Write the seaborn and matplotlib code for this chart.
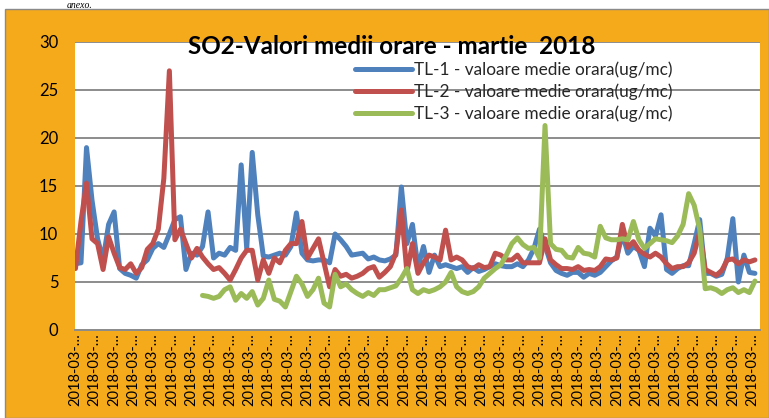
import numpy as np
import pandas as pd
import matplotlib
matplotlib.use("Agg")
import matplotlib.pyplot as plt
from matplotlib.patches import Rectangle
import seaborn as sns

# ---------------- data (6-hourly readings, March 2018) ----------------
tl1 = [6.9, 7.0, 19.0, 13.5, 9.5, 7.3, 11.0, 12.3, 6.4, 5.9, 5.7, 5.4, 6.8, 7.3, 8.5, 9.0,
       8.6, 10.0, 11.5, 11.8, 6.3, 8.0, 7.8, 8.7, 12.3, 7.5, 8.0, 7.8, 8.6, 8.3, 17.2, 8.5,
       18.5, 12.0, 7.7, 7.6, 7.8, 8.0, 7.8, 8.7, 12.2, 8.0, 7.3, 7.2, 7.3, 7.3, 7.0, 10.0,
       9.4, 8.7, 7.8, 7.9, 8.0, 7.4, 7.6, 7.3, 7.2, 7.4, 7.8, 14.9, 9.0, 11.0, 6.5, 8.7,
       6.0, 7.8, 6.6, 6.8, 6.6, 6.4, 6.6, 6.0, 6.5, 6.1, 6.3, 6.6, 6.9, 6.7, 6.6, 6.6,
       6.9, 6.6, 7.3, 8.5, 10.5, 8.8, 7.0, 6.2, 5.9, 5.7, 6.0, 6.0, 5.5, 5.9, 5.7, 6.0,
       6.6, 7.2, 7.6, 10.0, 8.0, 8.7, 8.3, 6.6, 10.6, 9.8, 12.0, 6.3, 5.9, 6.4, 6.7, 6.7,
       9.0, 11.5, 5.9, 5.9, 5.6, 5.8, 7.5, 11.6, 5.0, 7.8, 6.0, 5.9]
tl2 = [6.4, 11.3, 15.3, 9.5, 9.0, 6.3, 9.7, 8.0, 6.5, 6.3, 6.9, 5.9, 6.5, 8.4, 9.0, 10.5,
       15.8, 27.0, 9.4, 10.5, 9.0, 7.5, 8.5, 7.6, 6.9, 6.3, 6.5, 5.9, 5.2, 6.3, 7.5, 8.3,
       8.3, 5.2, 7.3, 5.9, 7.5, 7.0, 8.3, 9.0, 9.0, 11.3, 7.5, 8.5, 9.5, 7.0, 4.5, 6.3,
       5.6, 5.8, 5.4, 5.6, 5.9, 6.4, 6.6, 5.5, 6.0, 6.6, 8.0, 12.5, 6.0, 9.0, 5.9, 7.0,
       7.8, 7.6, 7.3, 10.4, 7.3, 7.6, 7.3, 6.6, 6.4, 6.8, 6.5, 6.6, 8.0, 7.8, 7.3, 7.3,
       7.8, 7.0, 7.0, 7.0, 7.0, 9.5, 7.3, 6.8, 6.4, 6.4, 6.3, 6.6, 6.2, 6.3, 6.2, 6.6,
       7.4, 7.3, 7.5, 11.0, 8.6, 9.2, 8.3, 7.9, 7.6, 8.0, 7.6, 6.9, 6.4, 6.6, 6.6, 7.0,
       8.0, 10.2, 6.3, 6.0, 5.7, 6.2, 7.3, 7.4, 6.9, 7.3, 7.1, 7.3]
tl3 = [np.nan] * 23 + [
       3.6, 3.5, 3.3, 3.5, 4.2, 4.5, 3.1, 3.8, 3.3, 4.0, 2.6, 3.3, 5.2, 3.2, 3.0, 2.4,
       4.0, 5.6, 4.8, 3.5, 4.2, 5.4, 2.8, 2.4, 5.8, 4.5, 4.8, 4.2, 3.8, 3.5, 3.9, 3.6,
       4.2, 4.2, 4.4, 4.6, 5.4, 6.4, 4.2, 3.8, 4.2, 4.0, 4.2, 4.5, 5.0, 6.0, 4.5, 4.0,
       3.8, 4.0, 4.5, 5.4, 5.9, 6.4, 6.8, 7.8, 9.0, 9.6, 8.9, 8.5, 8.6, 7.5, 21.3, 9.0,
       8.4, 8.3, 7.6, 7.5, 8.6, 8.0, 7.9, 7.6, 10.8, 9.6, 9.4, 9.4, 9.5, 9.4, 11.3, 9.4,
       8.5, 9.0, 9.5, 9.4, 9.3, 9.1, 9.8, 11.0, 14.2, 13.0, 10.5, 4.3, 4.4, 4.2, 3.8, 4.2,
       4.4, 3.9, 4.2, 3.9, 5.1]
series_names = ["TL-1 - valoare medie orara(ug/mc)",
                "TL-2 - valoare medie orara(ug/mc)",
                "TL-3 - valoare medie orara(ug/mc)"]
hours = np.arange(len(tl1)) * 6          # hour index of each reading
tick_label = "2018-03-\u2026"
title = "SO2-Valori medii orare - martie  2018"

# ---------------- style ----------------
sns.set_theme(style="white")
plt.rcParams["font.family"] = ["Lato", "DejaVu Sans"]

colors = ["#4F81BD", "#C0504D", "#9BBB59"]
orange = "#F5AA1C"

W, H = 769, 418
fig = plt.figure(figsize=(W / 100, H / 100), dpi=100, facecolor="white")
fig.patches.append(Rectangle((5 / W, 0), 1 - 5 / W, 1 - 9 / H, transform=fig.transFigure,
                             facecolor=orange, edgecolor="#8a8a8a", lw=1, zorder=-1))

ax = fig.add_axes([75 / W, (H - 330) / H, 685 / W, 288 / H])
ax.set_facecolor("white")

df = pd.DataFrame({"hour": hours, series_names[0]: tl1,
                   series_names[1]: tl2, series_names[2]: tl3})
for name, c in zip(series_names, colors):
    sub = df[["hour", name]].dropna()
    sns.lineplot(data=sub, x="hour", y=name, ax=ax, color=c, linewidth=3.6,
                 label=name, estimator=None, sort=False, solid_capstyle="round",
                 solid_joinstyle="round")

ax.set_xlim(-0.5, 743.5)
ax.set_ylim(0, 30)
ax.set_yticks(np.arange(0, 31, 5))
xt = np.arange(0, 744, 21)
ax.set_xticks(xt)
ax.set_xticklabels([tick_label] * len(xt), rotation=90, fontsize=10.5)
ax.tick_params(axis="y", labelsize=12, pad=12, length=0, colors="black")
ax.tick_params(axis="x", pad=2, length=0, colors="black")
ax.set_xlabel("")
ax.set_ylabel("")
ax.yaxis.grid(True, color="#8c8c8c", linewidth=1.4)
ax.xaxis.grid(False)
ax.set_axisbelow(True)
for s in ["top", "right", "left"]:
    ax.spines[s].set_visible(False)
ax.spines["bottom"].set_color("#8c8c8c")
ax.spines["bottom"].set_linewidth(1.4)

ax.legend(loc="upper left", bbox_to_anchor=(355 / W, 1 - 61 / H),
          bbox_transform=fig.transFigure, frameon=False, fontsize=12.4,
          handlelength=3.3, handletextpad=0.15, labelspacing=0.34,
          borderpad=0, borderaxespad=0)

fig.text(392 / W, 1 - 47 / H, title, ha="center", va="center",
         fontsize=17.5, fontweight="bold", color="black")
fig.text(67 / W, 1 - 7.5 / H, "anexo.", ha="left", va="baseline",
         fontsize=7, style="italic", family=["Liberation Serif"], color="black")

fig.savefig("out.png", dpi=100)
